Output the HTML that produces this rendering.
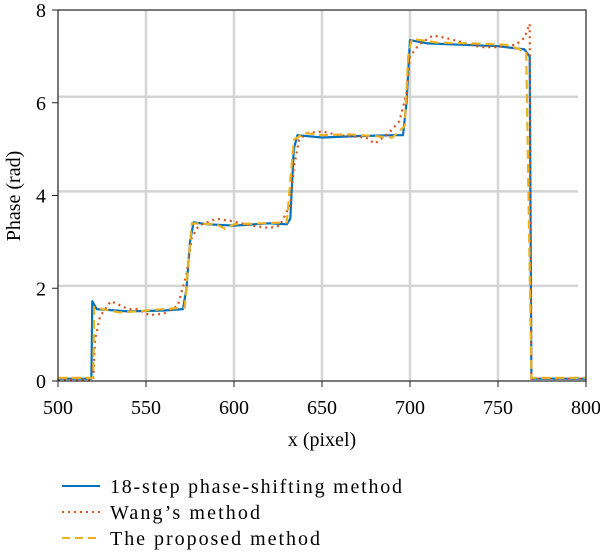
<!DOCTYPE html>
<html><head><meta charset="utf-8"><style>
body{margin:0;background:#fff}
svg{display:block;font-family:"Liberation Serif",serif}
</style></head><body>
<svg id="chart" width="600" height="554" viewBox="0 0 600 554">
<g id="grid"></g>
<g id="series"></g>
<rect x="58" y="10" width="528" height="371" fill="none" stroke="#222" stroke-width="1.2"/>
<g id="axes"></g>
<text x="322" y="446" text-anchor="middle" font-size="20">x (pixel)</text>
<text transform="translate(20,196) rotate(-90)" text-anchor="middle" font-size="20">Phase (rad)</text>
<g>
<g><line x1="62" y1="486" x2="100" y2="486" stroke="#0072BD" stroke-width="2"/><text x="110" y="493" font-size="20" textLength="292">18-step phase-shifting method</text></g>
<g><line x1="62" y1="512" x2="100" y2="512" stroke="#D95319" stroke-width="2" stroke-dasharray="2,4"/><text x="110" y="519" font-size="20" textLength="150">Wang’s method</text></g>
<g><line x1="62" y1="538" x2="100" y2="538" stroke="#EDB120" stroke-width="2" stroke-dasharray="8,5"/><text x="110" y="545" font-size="20" textLength="210">The proposed method</text></g>
</g>
</svg>
<script>
const xTicks=[500,550,600,650,700,750,800];
const yTicks=[0,2,4,6,8];
const hGrid=[2.05,4.09,6.13];
const vGrid=[550,600,650,700,750];
const blueX=[500,519,519.5,522,540,560,571,573,575,577,585,600,620,630,632,634,636,650,670,690,696,698,700,710,730,750,765,768,769,800];
const blueY=[0.05,0.05,1.72,1.55,1.5,1.52,1.55,2.0,3.0,3.42,3.38,3.35,3.4,3.38,3.5,5.0,5.3,5.25,5.28,5.3,5.3,6.0,7.35,7.28,7.25,7.22,7.15,7.0,0.05,0.05];
const redX=[500,520,521,524,530,540,545,552,560,568,573,576,580,590,598,610,620,626,632,634,637,642,650,660,675,680,688,694,698,700,705,713,720,730,740,750,760,765,768,769,800];
const redY=[0.03,0.03,0.9,1.4,1.72,1.55,1.55,1.42,1.45,1.62,2.3,3.1,3.35,3.5,3.45,3.35,3.3,3.35,3.8,4.6,5.2,5.35,5.38,5.3,5.25,5.12,5.35,5.6,6.2,7.0,7.25,7.45,7.4,7.3,7.2,7.2,7.25,7.4,7.7,0.05,0.05];
const yelX=[500,520,520.5,525,535,545,560,572,574,576,590,595,600,615,630,634,640,650,665,680,690,697,699,701,715,735,755,766,769,800];
const yelY=[0.07,0.07,1.6,1.55,1.48,1.5,1.55,1.58,2.5,3.4,3.38,3.28,3.38,3.4,3.42,5.2,5.35,5.3,5.32,5.28,5.25,5.5,7.0,7.38,7.3,7.28,7.25,7.1,0.07,0.07];
const NS="http://www.w3.org/2000/svg";
const sx=v=>58+(v-500)*528/300;
const sy=v=>381-v*371/8;
function mk(tag,attrs,parent){const e=document.createElementNS(NS,tag);for(const k in attrs)e.setAttribute(k,attrs[k]);parent.appendChild(e);return e;}
const grid=document.getElementById('grid'),axes=document.getElementById('axes'),series=document.getElementById('series');
hGrid.forEach(v=>{const l=mk('line',{x1:58,x2:578,y1:sy(v),y2:sy(v),stroke:'#d4d4d4','stroke-width':2.5},grid);

});
vGrid.forEach(v=>{const l=mk('line',{x1:sx(v),x2:sx(v),y1:10,y2:381,stroke:'#d4d4d4','stroke-width':2.5},grid);

});
xTicks.forEach(v=>{mk('line',{x1:sx(v),x2:sx(v),y1:381,y2:387,stroke:'#222'},axes);
const t=mk('text',{x:sx(v),y:414,'text-anchor':'middle','font-size':20},axes);t.textContent=v;

});
yTicks.forEach(v=>{mk('line',{x1:52,x2:58,y1:sy(v),y2:sy(v),stroke:'#222'},axes);
const t=mk('text',{x:46,y:sy(v)+7,'text-anchor':'end','font-size':20},axes);t.textContent=v;

});
function line(xs,ys,color,dash,name){const d=xs.map((x,i)=>(i?'L':'M')+sx(x).toFixed(1)+','+sy(ys[i]).toFixed(1)).join('');
const p=mk('path',{d:d,fill:'none',stroke:color,'stroke-width':2.2,'stroke-linejoin':'round'},series);
if(dash)p.setAttribute('stroke-dasharray',dash);

}
line(blueX,blueY,'#0072BD',null,'series-18-step');
line(redX,redY,'#D95319','2,4','series-wang');
line(yelX,yelY,'#EDB120','9,5','series-proposed');
</script>
</body></html>
